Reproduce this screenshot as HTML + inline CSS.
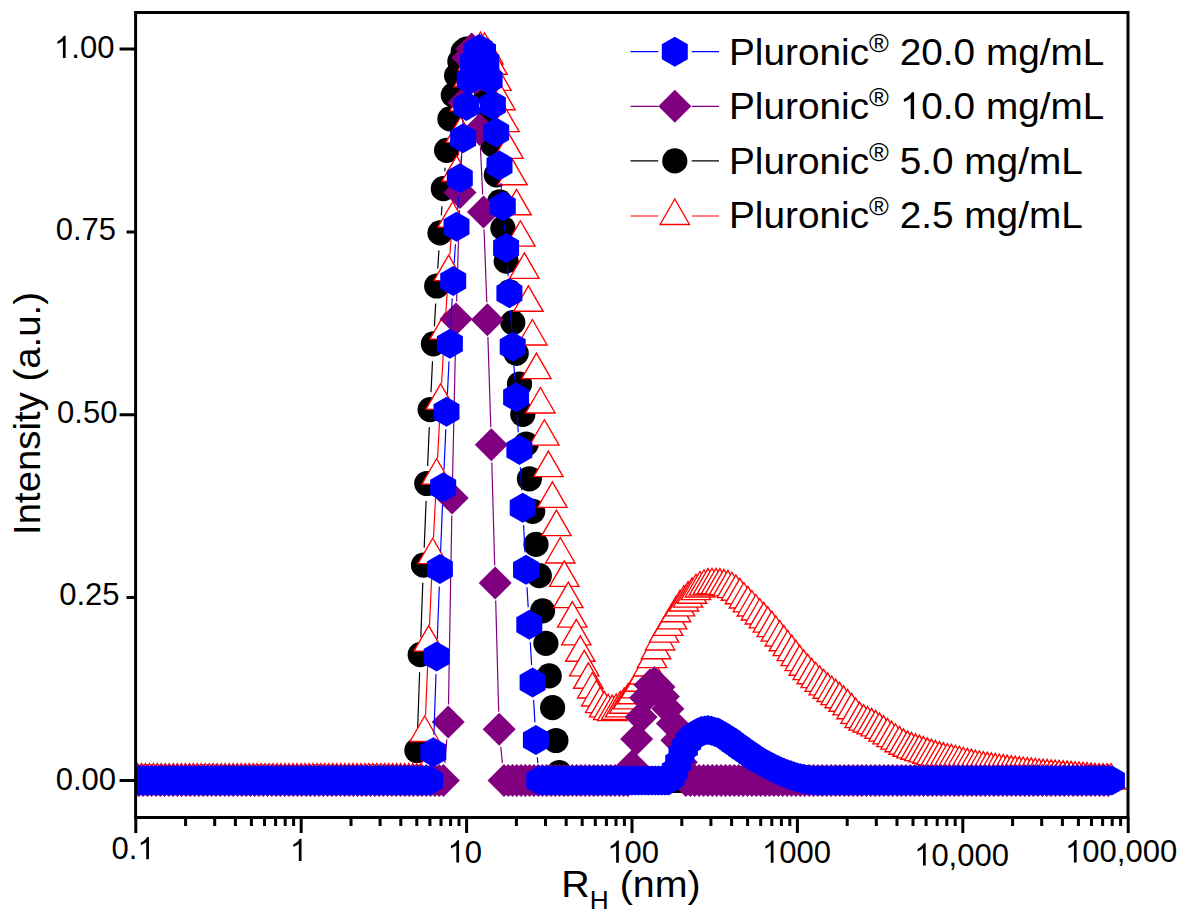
<!DOCTYPE html>
<html><head><meta charset="utf-8"><title>DLS</title>
<style>html,body{margin:0;padding:0;background:#fff}svg{display:block}text{font-family:"Liberation Sans",sans-serif;fill:#000}</style>
</head><body>
<svg width="1186" height="922" viewBox="0 0 1186 922">
<rect width="1186" height="922" fill="#fff"/>
<defs>
<clipPath id="cp"><rect x="135.6" y="12.5" width="992.4" height="805.0"/></clipPath>
<polygon id="h" points="0.00,-15.00 12.99,-7.50 12.99,7.50 0.00,15.00 -12.99,7.50 -12.99,-7.50" fill="#0000ff"/>
<polygon id="d" points="0,-16.5 16.5,0 0,16.5 -16.5,0" fill="#800080"/>
<circle id="c" r="12.6" fill="#000"/>
<polygon id="t" points="0,-16.97 14.70,8.49 -14.70,8.49" fill="#fff" stroke="#ff0000" stroke-width="1.35" stroke-linejoin="miter"/>
</defs>
<g clip-path="url(#cp)"><path d="M417.5 733.0L419.6 672.2M420.8 637.2L422.8 582.7M424.2 547.7L426.1 501.0M427.6 466.0L429.3 427.1M431.0 392.2L432.5 361.3M434.4 326.3L435.7 303.5M437.8 268.5L438.9 250.4M441.3 215.4L442.0 206.2M444.8 171.3L445.1 167.7" stroke="#000000" stroke-width="1.2" fill="none"/><use href="#c" x="135.5" y="780.5"/><use href="#c" x="138.8" y="780.5"/><use href="#c" x="142.1" y="780.5"/><use href="#c" x="145.4" y="780.5"/><use href="#c" x="148.7" y="780.5"/><use href="#c" x="152.1" y="780.5"/><use href="#c" x="155.4" y="780.5"/><use href="#c" x="158.7" y="780.5"/><use href="#c" x="162" y="780.5"/><use href="#c" x="165.3" y="780.5"/><use href="#c" x="168.6" y="780.5"/><use href="#c" x="171.9" y="780.5"/><use href="#c" x="175.2" y="780.5"/><use href="#c" x="178.5" y="780.5"/><use href="#c" x="181.8" y="780.5"/><use href="#c" x="185.2" y="780.5"/><use href="#c" x="188.5" y="780.5"/><use href="#c" x="191.8" y="780.5"/><use href="#c" x="195.1" y="780.5"/><use href="#c" x="198.4" y="780.5"/><use href="#c" x="201.7" y="780.5"/><use href="#c" x="205" y="780.5"/><use href="#c" x="208.3" y="780.5"/><use href="#c" x="211.6" y="780.5"/><use href="#c" x="214.9" y="780.5"/><use href="#c" x="218.2" y="780.5"/><use href="#c" x="221.6" y="780.5"/><use href="#c" x="224.9" y="780.5"/><use href="#c" x="228.2" y="780.5"/><use href="#c" x="231.5" y="780.5"/><use href="#c" x="234.8" y="780.5"/><use href="#c" x="238.1" y="780.5"/><use href="#c" x="241.4" y="780.5"/><use href="#c" x="244.7" y="780.5"/><use href="#c" x="248" y="780.5"/><use href="#c" x="251.4" y="780.5"/><use href="#c" x="254.7" y="780.5"/><use href="#c" x="258" y="780.5"/><use href="#c" x="261.3" y="780.5"/><use href="#c" x="264.6" y="780.5"/><use href="#c" x="267.9" y="780.5"/><use href="#c" x="271.2" y="780.5"/><use href="#c" x="274.5" y="780.5"/><use href="#c" x="277.8" y="780.5"/><use href="#c" x="281.1" y="780.5"/><use href="#c" x="284.4" y="780.5"/><use href="#c" x="287.8" y="780.5"/><use href="#c" x="291.1" y="780.5"/><use href="#c" x="294.4" y="780.5"/><use href="#c" x="297.7" y="780.5"/><use href="#c" x="301" y="780.5"/><use href="#c" x="304.3" y="780.5"/><use href="#c" x="307.6" y="780.5"/><use href="#c" x="310.9" y="780.5"/><use href="#c" x="314.2" y="780.5"/><use href="#c" x="317.6" y="780.5"/><use href="#c" x="320.9" y="780.5"/><use href="#c" x="324.2" y="780.5"/><use href="#c" x="327.5" y="780.5"/><use href="#c" x="330.8" y="780.5"/><use href="#c" x="334.1" y="780.5"/><use href="#c" x="337.4" y="780.5"/><use href="#c" x="340.7" y="780.5"/><use href="#c" x="344" y="780.5"/><use href="#c" x="347.3" y="780.5"/><use href="#c" x="350.6" y="780.5"/><use href="#c" x="354" y="780.5"/><use href="#c" x="357.3" y="780.5"/><use href="#c" x="360.6" y="780.5"/><use href="#c" x="363.9" y="780.5"/><use href="#c" x="367.2" y="780.5"/><use href="#c" x="370.5" y="780.5"/><use href="#c" x="373.8" y="780.5"/><use href="#c" x="377.1" y="780.5"/><use href="#c" x="380.4" y="780.5"/><use href="#c" x="383.8" y="780.5"/><use href="#c" x="387.1" y="780.5"/><use href="#c" x="390.4" y="780.5"/><use href="#c" x="393.7" y="780.5"/><use href="#c" x="397" y="780.5"/><use href="#c" x="400.3" y="780.5"/><use href="#c" x="403.6" y="780.5"/><use href="#c" x="406.9" y="780.5"/><use href="#c" x="410.2" y="780.5"/><use href="#c" x="413.5" y="780.5"/><use href="#c" x="416.9" y="750.5"/><use href="#c" x="420.2" y="654.7"/><use href="#c" x="423.5" y="565.2"/><use href="#c" x="426.8" y="483.5"/><use href="#c" x="430.1" y="409.6"/><use href="#c" x="433.4" y="343.8"/><use href="#c" x="436.7" y="286"/><use href="#c" x="440" y="232.9"/><use href="#c" x="443.3" y="188.7"/><use href="#c" x="446.6" y="150.3"/><use href="#c" x="449.9" y="118.9"/><use href="#c" x="453.3" y="95.1"/><use href="#c" x="456.6" y="75.6"/><use href="#c" x="459.9" y="61.4"/><use href="#c" x="463.2" y="51.6"/><use href="#c" x="466.5" y="49"/><use href="#c" x="469.8" y="49"/><use href="#c" x="473.1" y="50.5"/><use href="#c" x="476.4" y="54.9"/><use href="#c" x="479.7" y="63.6"/><use href="#c" x="483.1" y="76.8"/><use href="#c" x="486.4" y="92.9"/><use href="#c" x="489.7" y="114.8"/><use href="#c" x="493" y="144.8"/><use href="#c" x="496.3" y="174.8"/><use href="#c" x="499.6" y="201.9"/><use href="#c" x="502.9" y="228.2"/><use href="#c" x="506.2" y="261.1"/><use href="#c" x="509.5" y="291.9"/><use href="#c" x="512.8" y="322.6"/><use href="#c" x="516.2" y="353.3"/><use href="#c" x="519.5" y="384"/><use href="#c" x="522.8" y="414.3"/><use href="#c" x="526.1" y="444"/><use href="#c" x="529.4" y="478.8"/><use href="#c" x="532.7" y="511.3"/><use href="#c" x="536" y="544.4"/><use href="#c" x="539.3" y="575.7"/><use href="#c" x="542.6" y="610.8"/><use href="#c" x="545.9" y="643.3"/><use href="#c" x="549.2" y="675.9"/><use href="#c" x="552.6" y="707.7"/><use href="#c" x="555.9" y="740.5"/><use href="#c" x="559.2" y="772.5"/><use href="#c" x="562.5" y="780.5"/><use href="#c" x="565.8" y="780.5"/><use href="#c" x="569.1" y="780.5"/><use href="#c" x="572.4" y="780.5"/><use href="#c" x="575.7" y="780.5"/><use href="#c" x="579" y="780.5"/><use href="#c" x="582.4" y="780.5"/><use href="#c" x="585.7" y="780.5"/><use href="#c" x="589" y="780.5"/><use href="#c" x="592.3" y="780.5"/><use href="#c" x="595.6" y="780.5"/><use href="#c" x="598.9" y="780.5"/><use href="#c" x="602.2" y="780.5"/><use href="#c" x="605.5" y="780.5"/><use href="#c" x="608.8" y="780.5"/><use href="#c" x="612.1" y="780.5"/><use href="#c" x="615.5" y="780.5"/><use href="#c" x="618.8" y="780.5"/><use href="#c" x="622.1" y="780.5"/><use href="#c" x="625.4" y="780.5"/><use href="#c" x="628.7" y="780.5"/><use href="#c" x="632" y="780.5"/><use href="#c" x="635.3" y="780.5"/><use href="#c" x="638.6" y="780.5"/><use href="#c" x="641.9" y="780.5"/><use href="#c" x="645.2" y="780.5"/><use href="#c" x="648.5" y="780.5"/><use href="#c" x="651.9" y="780.5"/><use href="#c" x="655.2" y="780.5"/><use href="#c" x="658.5" y="780.5"/><use href="#c" x="661.8" y="780.5"/><use href="#c" x="665.1" y="780.5"/><use href="#c" x="668.4" y="780.5"/><use href="#c" x="671.7" y="780.5"/><use href="#c" x="675" y="780.5"/><use href="#c" x="678.3" y="780.5"/><use href="#c" x="681.6" y="780.5"/><use href="#c" x="685" y="780.5"/><use href="#c" x="688.3" y="780.5"/><use href="#c" x="691.6" y="780.5"/><use href="#c" x="694.9" y="780.5"/><use href="#c" x="698.2" y="780.5"/><use href="#c" x="701.5" y="780.5"/><use href="#c" x="704.8" y="780.5"/><use href="#c" x="708.1" y="780.5"/><use href="#c" x="711.4" y="780.5"/><use href="#c" x="714.8" y="780.5"/><use href="#c" x="718.1" y="780.5"/><use href="#c" x="721.4" y="780.5"/><use href="#c" x="724.7" y="780.5"/><use href="#c" x="728" y="780.5"/><use href="#c" x="731.3" y="780.5"/><use href="#c" x="734.6" y="780.5"/><use href="#c" x="737.9" y="780.5"/><use href="#c" x="741.2" y="780.5"/><use href="#c" x="744.5" y="780.5"/><use href="#c" x="747.9" y="780.5"/><use href="#c" x="751.2" y="780.5"/><use href="#c" x="754.5" y="780.5"/><use href="#c" x="757.8" y="780.5"/><use href="#c" x="761.1" y="780.5"/><use href="#c" x="764.4" y="780.5"/><use href="#c" x="767.7" y="780.5"/><use href="#c" x="771" y="780.5"/><use href="#c" x="774.3" y="780.5"/><use href="#c" x="777.6" y="780.5"/><use href="#c" x="781" y="780.5"/><use href="#c" x="784.3" y="780.5"/><use href="#c" x="787.6" y="780.5"/><use href="#c" x="790.9" y="780.5"/><use href="#c" x="794.2" y="780.5"/><use href="#c" x="797.5" y="780.5"/><use href="#c" x="800.8" y="780.5"/><use href="#c" x="804.1" y="780.5"/><use href="#c" x="807.4" y="780.5"/><use href="#c" x="810.7" y="780.5"/><use href="#c" x="814" y="780.5"/><use href="#c" x="817.4" y="780.5"/><use href="#c" x="820.7" y="780.5"/><use href="#c" x="824" y="780.5"/><use href="#c" x="827.3" y="780.5"/><use href="#c" x="830.6" y="780.5"/><use href="#c" x="833.9" y="780.5"/><use href="#c" x="837.2" y="780.5"/><use href="#c" x="840.5" y="780.5"/><use href="#c" x="843.8" y="780.5"/><use href="#c" x="847.1" y="780.5"/><use href="#c" x="850.5" y="780.5"/><use href="#c" x="853.8" y="780.5"/><use href="#c" x="857.1" y="780.5"/><use href="#c" x="860.4" y="780.5"/><use href="#c" x="863.7" y="780.5"/><use href="#c" x="867" y="780.5"/><use href="#c" x="870.3" y="780.5"/><use href="#c" x="873.6" y="780.5"/><use href="#c" x="876.9" y="780.5"/><use href="#c" x="880.2" y="780.5"/><use href="#c" x="883.6" y="780.5"/><use href="#c" x="886.9" y="780.5"/><use href="#c" x="890.2" y="780.5"/><use href="#c" x="893.5" y="780.5"/><use href="#c" x="896.8" y="780.5"/><use href="#c" x="900.1" y="780.5"/><use href="#c" x="903.4" y="780.5"/><use href="#c" x="906.7" y="780.5"/><use href="#c" x="910" y="780.5"/><use href="#c" x="913.4" y="780.5"/><use href="#c" x="916.7" y="780.5"/><use href="#c" x="920" y="780.5"/><use href="#c" x="923.3" y="780.5"/><use href="#c" x="926.6" y="780.5"/><use href="#c" x="929.9" y="780.5"/><use href="#c" x="933.2" y="780.5"/><use href="#c" x="936.5" y="780.5"/><use href="#c" x="939.8" y="780.5"/><use href="#c" x="943.1" y="780.5"/><use href="#c" x="946.5" y="780.5"/><use href="#c" x="949.8" y="780.5"/><use href="#c" x="953.1" y="780.5"/><use href="#c" x="956.4" y="780.5"/><use href="#c" x="959.7" y="780.5"/><use href="#c" x="963" y="780.5"/><use href="#c" x="966.3" y="780.5"/><use href="#c" x="969.6" y="780.5"/><use href="#c" x="972.9" y="780.5"/><use href="#c" x="976.2" y="780.5"/><use href="#c" x="979.6" y="780.5"/><use href="#c" x="982.9" y="780.5"/><use href="#c" x="986.2" y="780.5"/><use href="#c" x="989.5" y="780.5"/><use href="#c" x="992.8" y="780.5"/><use href="#c" x="996.1" y="780.5"/><use href="#c" x="999.4" y="780.5"/><use href="#c" x="1002.7" y="780.5"/><use href="#c" x="1006" y="780.5"/><use href="#c" x="1009.3" y="780.5"/><use href="#c" x="1012.6" y="780.5"/><use href="#c" x="1016" y="780.5"/><use href="#c" x="1019.3" y="780.5"/><use href="#c" x="1022.6" y="780.5"/><use href="#c" x="1025.9" y="780.5"/><use href="#c" x="1029.2" y="780.5"/><use href="#c" x="1032.5" y="780.5"/><use href="#c" x="1035.8" y="780.5"/><use href="#c" x="1039.1" y="780.5"/><use href="#c" x="1042.4" y="780.5"/><use href="#c" x="1045.8" y="780.5"/><use href="#c" x="1049.1" y="780.5"/><use href="#c" x="1052.4" y="780.5"/><use href="#c" x="1055.7" y="780.5"/><use href="#c" x="1059" y="780.5"/><use href="#c" x="1062.3" y="780.5"/><use href="#c" x="1065.6" y="780.5"/><use href="#c" x="1068.9" y="780.5"/><use href="#c" x="1072.2" y="780.5"/><use href="#c" x="1075.5" y="780.5"/><use href="#c" x="1078.8" y="780.5"/><use href="#c" x="1082.2" y="780.5"/><use href="#c" x="1085.5" y="780.5"/><use href="#c" x="1088.8" y="780.5"/><use href="#c" x="1092.1" y="780.5"/><use href="#c" x="1095.4" y="780.5"/><use href="#c" x="1098.7" y="780.5"/><use href="#c" x="1102" y="780.5"/><use href="#c" x="1105.3" y="780.5"/><use href="#c" x="1108.6" y="780.5"/><use href="#c" x="1112" y="780.5"/><path d="M422.2 763.1L423.2 750.4M425.5 715.5L427.9 660.1M429.5 625.1L431.9 572.7M433.5 537.7L435.8 493.2M437.6 458.2L439.7 418.3M441.6 383.4L443.6 348.1M445.8 313.2L447.4 289.6M449.9 254.7L451.3 236.2M454.1 201.3L455.1 190.2M458.4 155.4L458.8 151.3" stroke="#ff0000" stroke-width="1.2" fill="none"/><use href="#t" x="137.4" y="780.5"/><use href="#t" x="141.4" y="780.5"/><use href="#t" x="145.4" y="780.5"/><use href="#t" x="149.4" y="780.5"/><use href="#t" x="153.4" y="780.5"/><use href="#t" x="157.4" y="780.5"/><use href="#t" x="161.3" y="780.5"/><use href="#t" x="165.3" y="780.5"/><use href="#t" x="169.3" y="780.5"/><use href="#t" x="173.3" y="780.5"/><use href="#t" x="177.3" y="780.5"/><use href="#t" x="181.3" y="780.5"/><use href="#t" x="185.3" y="780.5"/><use href="#t" x="189.3" y="780.5"/><use href="#t" x="193.3" y="780.5"/><use href="#t" x="197.2" y="780.5"/><use href="#t" x="201.2" y="780.5"/><use href="#t" x="205.2" y="780.5"/><use href="#t" x="209.2" y="780.5"/><use href="#t" x="213.2" y="780.5"/><use href="#t" x="217.2" y="780.5"/><use href="#t" x="221.2" y="780.5"/><use href="#t" x="225.2" y="780.5"/><use href="#t" x="229.2" y="780.5"/><use href="#t" x="233.2" y="780.5"/><use href="#t" x="237.2" y="780.5"/><use href="#t" x="241.1" y="780.5"/><use href="#t" x="245.1" y="780.5"/><use href="#t" x="249.1" y="780.5"/><use href="#t" x="253.1" y="780.5"/><use href="#t" x="257.1" y="780.5"/><use href="#t" x="261.1" y="780.5"/><use href="#t" x="265.1" y="780.5"/><use href="#t" x="269.1" y="780.5"/><use href="#t" x="273.1" y="780.5"/><use href="#t" x="277.1" y="780.5"/><use href="#t" x="281" y="780.5"/><use href="#t" x="285" y="780.5"/><use href="#t" x="289" y="780.5"/><use href="#t" x="293" y="780.5"/><use href="#t" x="297" y="780.5"/><use href="#t" x="301" y="780.5"/><use href="#t" x="305" y="780.5"/><use href="#t" x="309" y="780.5"/><use href="#t" x="313" y="780.5"/><use href="#t" x="317" y="780.5"/><use href="#t" x="320.9" y="780.5"/><use href="#t" x="324.9" y="780.5"/><use href="#t" x="328.9" y="780.5"/><use href="#t" x="332.9" y="780.5"/><use href="#t" x="336.9" y="780.5"/><use href="#t" x="340.9" y="780.5"/><use href="#t" x="344.9" y="780.5"/><use href="#t" x="348.9" y="780.5"/><use href="#t" x="352.9" y="780.5"/><use href="#t" x="356.9" y="780.5"/><use href="#t" x="360.8" y="780.5"/><use href="#t" x="364.8" y="780.5"/><use href="#t" x="368.8" y="780.5"/><use href="#t" x="372.8" y="780.5"/><use href="#t" x="376.8" y="780.5"/><use href="#t" x="380.8" y="780.5"/><use href="#t" x="384.8" y="780.5"/><use href="#t" x="388.8" y="780.5"/><use href="#t" x="392.8" y="780.5"/><use href="#t" x="396.8" y="780.5"/><use href="#t" x="400.7" y="780.5"/><use href="#t" x="404.7" y="780.5"/><use href="#t" x="408.7" y="780.5"/><use href="#t" x="412.7" y="780.5"/><use href="#t" x="416.7" y="780.5"/><use href="#t" x="420.7" y="780.5"/><use href="#t" x="424.7" y="733"/><use href="#t" x="428.7" y="642.6"/><use href="#t" x="432.7" y="555.2"/><use href="#t" x="436.6" y="475.7"/><use href="#t" x="440.6" y="400.9"/><use href="#t" x="444.6" y="330.6"/><use href="#t" x="448.6" y="272.1"/><use href="#t" x="452.6" y="218.7"/><use href="#t" x="456.6" y="172.8"/><use href="#t" x="460.6" y="133.9"/><use href="#t" x="464.6" y="102.4"/><use href="#t" x="468.6" y="78.3"/><use href="#t" x="472.6" y="62.2"/><use href="#t" x="476.6" y="53.4"/><use href="#t" x="480.5" y="49"/><use href="#t" x="484.5" y="49.7"/><use href="#t" x="488.5" y="55.6"/><use href="#t" x="492.5" y="65.8"/><use href="#t" x="496.5" y="81.9"/><use href="#t" x="500.5" y="101.3"/><use href="#t" x="504.5" y="123.2"/><use href="#t" x="508.5" y="149.9"/><use href="#t" x="512.5" y="176.3"/><use href="#t" x="516.5" y="206.3"/><use href="#t" x="520.4" y="237.7"/><use href="#t" x="524.4" y="269.9"/><use href="#t" x="528.4" y="302.8"/><use href="#t" x="532.4" y="336.5"/><use href="#t" x="536.4" y="370.1"/><use href="#t" x="540.4" y="404.5"/><use href="#t" x="544.4" y="436.7"/><use href="#t" x="548.4" y="468.1"/><use href="#t" x="552.4" y="498.9"/><use href="#t" x="556.4" y="527.1"/><use href="#t" x="560.3" y="554.5"/><use href="#t" x="564.3" y="577.9"/><use href="#t" x="568.3" y="599.1"/><use href="#t" x="572.3" y="618.6"/><use href="#t" x="576.3" y="636.4"/><use href="#t" x="580.3" y="652.8"/><use href="#t" x="584.3" y="667.4"/><use href="#t" x="588.3" y="679.8"/><use href="#t" x="592.3" y="689.5"/><use href="#t" x="596.2" y="697.5"/><use href="#t" x="600.2" y="704.1"/><use href="#t" x="604.2" y="708.4"/><use href="#t" x="608.2" y="711.2"/><use href="#t" x="612.2" y="712.1"/><use href="#t" x="616.2" y="711"/><use href="#t" x="620.2" y="708.4"/><use href="#t" x="624.2" y="704.8"/><use href="#t" x="628.2" y="700.4"/><use href="#t" x="632.2" y="695.3"/><use href="#t" x="636.1" y="689.4"/><use href="#t" x="640.1" y="682.8"/><use href="#t" x="644.1" y="675.5"/><use href="#t" x="648.1" y="667.5"/><use href="#t" x="652.1" y="659.1"/><use href="#t" x="656.1" y="650.3"/><use href="#t" x="660.1" y="641.5"/><use href="#t" x="664.1" y="633.7"/><use href="#t" x="668.1" y="626.9"/><use href="#t" x="672.1" y="620.4"/><use href="#t" x="676" y="613.3"/><use href="#t" x="680" y="607.4"/><use href="#t" x="684" y="602.5"/><use href="#t" x="688" y="598.6"/><use href="#t" x="692" y="594.8"/><use href="#t" x="696" y="591.2"/><use href="#t" x="700" y="588.5"/><use href="#t" x="704" y="586.7"/><use href="#t" x="708" y="585.6"/><use href="#t" x="712" y="585.2"/><use href="#t" x="716" y="585.2"/><use href="#t" x="719.9" y="585.6"/><use href="#t" x="723.9" y="586.3"/><use href="#t" x="727.9" y="587.4"/><use href="#t" x="731.9" y="589.2"/><use href="#t" x="735.9" y="591.8"/><use href="#t" x="739.9" y="595.3"/><use href="#t" x="743.9" y="599.5"/><use href="#t" x="747.9" y="603.4"/><use href="#t" x="751.9" y="607.5"/><use href="#t" x="755.9" y="611.5"/><use href="#t" x="759.8" y="615.5"/><use href="#t" x="763.8" y="619.4"/><use href="#t" x="767.8" y="623.6"/><use href="#t" x="771.8" y="628.1"/><use href="#t" x="775.8" y="632.7"/><use href="#t" x="779.8" y="637.5"/><use href="#t" x="783.8" y="642.3"/><use href="#t" x="787.8" y="647.2"/><use href="#t" x="791.8" y="652.1"/><use href="#t" x="795.8" y="657.1"/><use href="#t" x="799.7" y="662.1"/><use href="#t" x="803.7" y="666.8"/><use href="#t" x="807.7" y="671.1"/><use href="#t" x="811.7" y="675.3"/><use href="#t" x="815.7" y="679.2"/><use href="#t" x="819.7" y="682.9"/><use href="#t" x="823.7" y="686.4"/><use href="#t" x="827.7" y="689.8"/><use href="#t" x="831.7" y="693"/><use href="#t" x="835.6" y="696.1"/><use href="#t" x="839.6" y="699.3"/><use href="#t" x="843.6" y="702.8"/><use href="#t" x="847.6" y="706.4"/><use href="#t" x="851.6" y="710.3"/><use href="#t" x="855.6" y="714.9"/><use href="#t" x="859.6" y="719.1"/><use href="#t" x="863.6" y="721.6"/><use href="#t" x="867.6" y="723.5"/><use href="#t" x="871.6" y="725.3"/><use href="#t" x="875.6" y="727.4"/><use href="#t" x="879.5" y="729.9"/><use href="#t" x="883.5" y="732.6"/><use href="#t" x="887.5" y="735.4"/><use href="#t" x="891.5" y="738.1"/><use href="#t" x="895.5" y="740.7"/><use href="#t" x="899.5" y="743.3"/><use href="#t" x="903.5" y="745.8"/><use href="#t" x="907.5" y="747.8"/><use href="#t" x="911.5" y="749.4"/><use href="#t" x="915.5" y="750.8"/><use href="#t" x="919.4" y="752.1"/><use href="#t" x="923.4" y="753.4"/><use href="#t" x="927.4" y="754.8"/><use href="#t" x="931.4" y="756.1"/><use href="#t" x="935.4" y="757.4"/><use href="#t" x="939.4" y="758.6"/><use href="#t" x="943.4" y="759.6"/><use href="#t" x="947.4" y="760.5"/><use href="#t" x="951.4" y="761.3"/><use href="#t" x="955.4" y="762.2"/><use href="#t" x="959.3" y="763.2"/><use href="#t" x="963.3" y="764.2"/><use href="#t" x="967.3" y="765.2"/><use href="#t" x="971.3" y="766.1"/><use href="#t" x="975.3" y="767"/><use href="#t" x="979.3" y="767.7"/><use href="#t" x="983.3" y="768.5"/><use href="#t" x="987.3" y="769.1"/><use href="#t" x="991.3" y="769.8"/><use href="#t" x="995.2" y="770.4"/><use href="#t" x="999.2" y="771"/><use href="#t" x="1003.2" y="771.6"/><use href="#t" x="1007.2" y="772.1"/><use href="#t" x="1011.2" y="772.6"/><use href="#t" x="1015.2" y="773.1"/><use href="#t" x="1019.2" y="773.6"/><use href="#t" x="1023.2" y="774"/><use href="#t" x="1027.2" y="774.5"/><use href="#t" x="1031.2" y="774.9"/><use href="#t" x="1035.2" y="775.4"/><use href="#t" x="1039.1" y="775.7"/><use href="#t" x="1043.1" y="776.1"/><use href="#t" x="1047.1" y="776.4"/><use href="#t" x="1051.1" y="776.7"/><use href="#t" x="1055.1" y="777"/><use href="#t" x="1059.1" y="777.3"/><use href="#t" x="1063.1" y="777.6"/><use href="#t" x="1067.1" y="777.9"/><use href="#t" x="1071.1" y="778.3"/><use href="#t" x="1075.1" y="778.6"/><use href="#t" x="1079" y="778.9"/><use href="#t" x="1083" y="779.2"/><use href="#t" x="1087" y="779.5"/><use href="#t" x="1091" y="779.9"/><use href="#t" x="1095" y="780.2"/><use href="#t" x="1099" y="780.5"/><use href="#t" x="1103" y="780.5"/><use href="#t" x="1107" y="780.5"/><use href="#t" x="1111" y="780.5"/><path d="M444.8 763.1L446.8 739.4M448.5 704.5L451.8 515.6M452.5 480.6L455.7 336.4M456.6 301.4L459.4 209.9M460.7 174.9L463.1 119.9M465.4 85.0L466.3 75.2M477.0 95.7L478.2 112.0M480.4 146.9L482.7 194.6M484.1 229.6L486.8 302.2M487.9 337.1L490.8 427.3M491.8 462.2L494.7 565.5M495.7 600.5L498.7 711.8M500.8 746.7L502.4 763.1" stroke="#800080" stroke-width="1.2" fill="none"/><use href="#d" x="134.5" y="780.5"/><use href="#d" x="138.8" y="780.5"/><use href="#d" x="143.1" y="780.5"/><use href="#d" x="147.4" y="780.5"/><use href="#d" x="151.7" y="780.5"/><use href="#d" x="156" y="780.5"/><use href="#d" x="160.3" y="780.5"/><use href="#d" x="164.5" y="780.5"/><use href="#d" x="168.8" y="780.5"/><use href="#d" x="173.1" y="780.5"/><use href="#d" x="177.4" y="780.5"/><use href="#d" x="181.7" y="780.5"/><use href="#d" x="186" y="780.5"/><use href="#d" x="190.3" y="780.5"/><use href="#d" x="194.6" y="780.5"/><use href="#d" x="198.9" y="780.5"/><use href="#d" x="203.2" y="780.5"/><use href="#d" x="207.4" y="780.5"/><use href="#d" x="211.7" y="780.5"/><use href="#d" x="216" y="780.5"/><use href="#d" x="220.3" y="780.5"/><use href="#d" x="224.6" y="780.5"/><use href="#d" x="228.9" y="780.5"/><use href="#d" x="233.2" y="780.5"/><use href="#d" x="237.5" y="780.5"/><use href="#d" x="241.8" y="780.5"/><use href="#d" x="246.1" y="780.5"/><use href="#d" x="250.3" y="780.5"/><use href="#d" x="254.6" y="780.5"/><use href="#d" x="258.9" y="780.5"/><use href="#d" x="263.2" y="780.5"/><use href="#d" x="267.5" y="780.5"/><use href="#d" x="271.8" y="780.5"/><use href="#d" x="276.1" y="780.5"/><use href="#d" x="280.4" y="780.5"/><use href="#d" x="284.7" y="780.5"/><use href="#d" x="289" y="780.5"/><use href="#d" x="293.2" y="780.5"/><use href="#d" x="297.5" y="780.5"/><use href="#d" x="301.8" y="780.5"/><use href="#d" x="306.1" y="780.5"/><use href="#d" x="310.4" y="780.5"/><use href="#d" x="314.7" y="780.5"/><use href="#d" x="319" y="780.5"/><use href="#d" x="323.3" y="780.5"/><use href="#d" x="327.6" y="780.5"/><use href="#d" x="331.9" y="780.5"/><use href="#d" x="336.1" y="780.5"/><use href="#d" x="340.4" y="780.5"/><use href="#d" x="344.7" y="780.5"/><use href="#d" x="349" y="780.5"/><use href="#d" x="353.3" y="780.5"/><use href="#d" x="357.6" y="780.5"/><use href="#d" x="361.9" y="780.5"/><use href="#d" x="366.2" y="780.5"/><use href="#d" x="370.5" y="780.5"/><use href="#d" x="374.8" y="780.5"/><use href="#d" x="379" y="780.5"/><use href="#d" x="383.3" y="780.5"/><use href="#d" x="387.6" y="780.5"/><use href="#d" x="391.9" y="780.5"/><use href="#d" x="396.2" y="780.5"/><use href="#d" x="400.5" y="780.5"/><use href="#d" x="404.8" y="780.5"/><use href="#d" x="409.1" y="780.5"/><use href="#d" x="413.4" y="780.5"/><use href="#d" x="417.7" y="780.5"/><use href="#d" x="421.9" y="780.5"/><use href="#d" x="426.2" y="780.5"/><use href="#d" x="430.5" y="780.5"/><use href="#d" x="434.8" y="780.5"/><use href="#d" x="439.1" y="780.5"/><use href="#d" x="443.4" y="780.5"/><use href="#d" x="448.2" y="722"/><use href="#d" x="452.1" y="498.1"/><use href="#d" x="456" y="318.9"/><use href="#d" x="460" y="192.4"/><use href="#d" x="463.9" y="102.4"/><use href="#d" x="467.8" y="57.8"/><use href="#d" x="471.7" y="49"/><use href="#d" x="475.6" y="78.3"/><use href="#d" x="479.6" y="129.5"/><use href="#d" x="483.5" y="212.1"/><use href="#d" x="487.4" y="319.7"/><use href="#d" x="491.3" y="444.7"/><use href="#d" x="495.2" y="583"/><use href="#d" x="499.2" y="729.3"/><use href="#d" x="504" y="780.5"/><use href="#d" x="508.3" y="780.5"/><use href="#d" x="512.5" y="780.5"/><use href="#d" x="516.8" y="780.5"/><use href="#d" x="521.1" y="780.5"/><use href="#d" x="525.3" y="780.5"/><use href="#d" x="529.6" y="780.5"/><use href="#d" x="533.9" y="780.5"/><use href="#d" x="538.2" y="780.5"/><use href="#d" x="542.4" y="780.5"/><use href="#d" x="546.7" y="780.5"/><use href="#d" x="551" y="780.5"/><use href="#d" x="555.2" y="780.5"/><use href="#d" x="559.5" y="780.5"/><use href="#d" x="563.8" y="780.5"/><use href="#d" x="568" y="780.5"/><use href="#d" x="572.3" y="780.5"/><use href="#d" x="576.6" y="780.5"/><use href="#d" x="580.9" y="780.5"/><use href="#d" x="585.1" y="780.5"/><use href="#d" x="589.4" y="780.5"/><use href="#d" x="593.7" y="780.5"/><use href="#d" x="597.9" y="780.5"/><use href="#d" x="602.2" y="780.5"/><use href="#d" x="606.5" y="780.5"/><use href="#d" x="610.7" y="780.5"/><use href="#d" x="615" y="780.5"/><use href="#d" x="619.3" y="780.5"/><use href="#d" x="623.6" y="780.5"/><use href="#d" x="627.8" y="780.5"/><use href="#d" x="632.1" y="765.9"/><use href="#d" x="636.6" y="739.1"/><use href="#d" x="641.1" y="716.9"/><use href="#d" x="645.5" y="697.8"/><use href="#d" x="650" y="685"/><use href="#d" x="654.5" y="682.5"/><use href="#d" x="659" y="686.9"/><use href="#d" x="663.4" y="696.4"/><use href="#d" x="667.9" y="708.8"/><use href="#d" x="672.4" y="723.4"/><use href="#d" x="676.9" y="740.3"/><use href="#d" x="681.3" y="762.2"/><use href="#d" x="685.8" y="780.5"/><use href="#d" x="690.3" y="780.5"/><use href="#d" x="694.7" y="780.5"/><use href="#d" x="699.1" y="780.5"/><use href="#d" x="703.5" y="780.5"/><use href="#d" x="707.9" y="780.5"/><use href="#d" x="712.3" y="780.5"/><use href="#d" x="716.7" y="780.5"/><use href="#d" x="721.1" y="780.5"/><use href="#d" x="725.5" y="780.5"/><use href="#d" x="729.9" y="780.5"/><use href="#d" x="734.3" y="780.5"/><use href="#d" x="738.7" y="780.5"/><use href="#d" x="743.1" y="780.5"/><use href="#d" x="747.5" y="780.5"/><use href="#d" x="751.9" y="780.5"/><use href="#d" x="756.3" y="780.5"/><use href="#d" x="760.7" y="780.5"/><use href="#d" x="765.1" y="780.5"/><use href="#d" x="769.5" y="780.5"/><use href="#d" x="773.9" y="780.5"/><use href="#d" x="778.3" y="780.5"/><use href="#d" x="782.7" y="780.5"/><use href="#d" x="787.1" y="780.5"/><use href="#d" x="791.5" y="780.5"/><use href="#d" x="795.9" y="780.5"/><use href="#d" x="800.3" y="780.5"/><use href="#d" x="804.7" y="780.5"/><use href="#d" x="809.1" y="780.5"/><use href="#d" x="813.5" y="780.5"/><use href="#d" x="817.9" y="780.5"/><use href="#d" x="822.3" y="780.5"/><use href="#d" x="826.7" y="780.5"/><use href="#d" x="831.1" y="780.5"/><use href="#d" x="835.5" y="780.5"/><use href="#d" x="839.9" y="780.5"/><use href="#d" x="844.3" y="780.5"/><use href="#d" x="848.7" y="780.5"/><use href="#d" x="853.1" y="780.5"/><use href="#d" x="857.5" y="780.5"/><use href="#d" x="861.9" y="780.5"/><use href="#d" x="866.3" y="780.5"/><use href="#d" x="870.7" y="780.5"/><use href="#d" x="875.1" y="780.5"/><use href="#d" x="879.5" y="780.5"/><use href="#d" x="883.9" y="780.5"/><use href="#d" x="888.3" y="780.5"/><use href="#d" x="892.7" y="780.5"/><use href="#d" x="897.1" y="780.5"/><use href="#d" x="901.5" y="780.5"/><use href="#d" x="905.9" y="780.5"/><use href="#d" x="910.3" y="780.5"/><use href="#d" x="914.7" y="780.5"/><use href="#d" x="919.1" y="780.5"/><use href="#d" x="923.5" y="780.5"/><use href="#d" x="927.9" y="780.5"/><use href="#d" x="932.3" y="780.5"/><use href="#d" x="936.7" y="780.5"/><use href="#d" x="941.1" y="780.5"/><use href="#d" x="945.5" y="780.5"/><use href="#d" x="949.9" y="780.5"/><use href="#d" x="954.3" y="780.5"/><use href="#d" x="958.7" y="780.5"/><use href="#d" x="963.1" y="780.5"/><use href="#d" x="967.5" y="780.5"/><use href="#d" x="971.9" y="780.5"/><use href="#d" x="976.3" y="780.5"/><use href="#d" x="980.7" y="780.5"/><use href="#d" x="985.1" y="780.5"/><use href="#d" x="989.5" y="780.5"/><use href="#d" x="993.9" y="780.5"/><use href="#d" x="998.3" y="780.5"/><use href="#d" x="1002.7" y="780.5"/><use href="#d" x="1007.1" y="780.5"/><use href="#d" x="1011.5" y="780.5"/><use href="#d" x="1015.9" y="780.5"/><use href="#d" x="1020.3" y="780.5"/><use href="#d" x="1024.7" y="780.5"/><use href="#d" x="1029.1" y="780.5"/><use href="#d" x="1033.5" y="780.5"/><use href="#d" x="1037.9" y="780.5"/><use href="#d" x="1042.3" y="780.5"/><use href="#d" x="1046.7" y="780.5"/><use href="#d" x="1051.1" y="780.5"/><use href="#d" x="1055.5" y="780.5"/><use href="#d" x="1059.9" y="780.5"/><use href="#d" x="1064.3" y="780.5"/><use href="#d" x="1068.7" y="780.5"/><use href="#d" x="1073.1" y="780.5"/><use href="#d" x="1077.5" y="780.5"/><use href="#d" x="1081.9" y="780.5"/><use href="#d" x="1086.3" y="780.5"/><use href="#d" x="1090.7" y="780.5"/><use href="#d" x="1095.1" y="780.5"/><use href="#d" x="1099.5" y="780.5"/><use href="#d" x="1103.9" y="780.5"/><use href="#d" x="1108.3" y="780.5"/><path d="M433.9 734.7L436.0 673.9M437.3 639.0L439.3 586.6M440.6 551.6L442.5 504.7M444.0 469.7L445.8 429.3M447.4 394.3L449.0 361.3M450.8 326.3L452.2 298.4M454.2 263.4L455.4 244.2M457.7 209.3L458.6 195.6M461.2 160.7L461.6 155.7M500.9 183.0L501.4 188.8M504.2 223.7L504.7 230.5M507.4 265.4L508.2 275.9M510.5 310.8L511.7 329.3M513.9 364.2L514.9 379.7M517.1 414.7L518.3 432.4M520.4 467.3L521.7 490.2M523.6 525.1L525.0 552.4M527.0 587.3L528.2 607.2M530.3 642.2L531.6 665.0M533.6 699.9L534.9 722.4M537.3 757.3L537.8 763.1" stroke="#0000ff" stroke-width="1.2" fill="none"/><use href="#h" x="135.4" y="780.5"/><use href="#h" x="138.7" y="780.5"/><use href="#h" x="142" y="780.5"/><use href="#h" x="145.3" y="780.5"/><use href="#h" x="148.6" y="780.5"/><use href="#h" x="152" y="780.5"/><use href="#h" x="155.3" y="780.5"/><use href="#h" x="158.6" y="780.5"/><use href="#h" x="161.9" y="780.5"/><use href="#h" x="165.2" y="780.5"/><use href="#h" x="168.5" y="780.5"/><use href="#h" x="171.8" y="780.5"/><use href="#h" x="175.1" y="780.5"/><use href="#h" x="178.4" y="780.5"/><use href="#h" x="181.7" y="780.5"/><use href="#h" x="185.1" y="780.5"/><use href="#h" x="188.4" y="780.5"/><use href="#h" x="191.7" y="780.5"/><use href="#h" x="195" y="780.5"/><use href="#h" x="198.3" y="780.5"/><use href="#h" x="201.6" y="780.5"/><use href="#h" x="204.9" y="780.5"/><use href="#h" x="208.2" y="780.5"/><use href="#h" x="211.5" y="780.5"/><use href="#h" x="214.8" y="780.5"/><use href="#h" x="218.2" y="780.5"/><use href="#h" x="221.5" y="780.5"/><use href="#h" x="224.8" y="780.5"/><use href="#h" x="228.1" y="780.5"/><use href="#h" x="231.4" y="780.5"/><use href="#h" x="234.7" y="780.5"/><use href="#h" x="238" y="780.5"/><use href="#h" x="241.3" y="780.5"/><use href="#h" x="244.6" y="780.5"/><use href="#h" x="247.9" y="780.5"/><use href="#h" x="251.2" y="780.5"/><use href="#h" x="254.6" y="780.5"/><use href="#h" x="257.9" y="780.5"/><use href="#h" x="261.2" y="780.5"/><use href="#h" x="264.5" y="780.5"/><use href="#h" x="267.8" y="780.5"/><use href="#h" x="271.1" y="780.5"/><use href="#h" x="274.4" y="780.5"/><use href="#h" x="277.7" y="780.5"/><use href="#h" x="281" y="780.5"/><use href="#h" x="284.4" y="780.5"/><use href="#h" x="287.7" y="780.5"/><use href="#h" x="291" y="780.5"/><use href="#h" x="294.3" y="780.5"/><use href="#h" x="297.6" y="780.5"/><use href="#h" x="300.9" y="780.5"/><use href="#h" x="304.2" y="780.5"/><use href="#h" x="307.5" y="780.5"/><use href="#h" x="310.8" y="780.5"/><use href="#h" x="314.1" y="780.5"/><use href="#h" x="317.5" y="780.5"/><use href="#h" x="320.8" y="780.5"/><use href="#h" x="324.1" y="780.5"/><use href="#h" x="327.4" y="780.5"/><use href="#h" x="330.7" y="780.5"/><use href="#h" x="334" y="780.5"/><use href="#h" x="337.3" y="780.5"/><use href="#h" x="340.6" y="780.5"/><use href="#h" x="343.9" y="780.5"/><use href="#h" x="347.2" y="780.5"/><use href="#h" x="350.6" y="780.5"/><use href="#h" x="353.9" y="780.5"/><use href="#h" x="357.2" y="780.5"/><use href="#h" x="360.5" y="780.5"/><use href="#h" x="363.8" y="780.5"/><use href="#h" x="367.1" y="780.5"/><use href="#h" x="370.4" y="780.5"/><use href="#h" x="373.7" y="780.5"/><use href="#h" x="377" y="780.5"/><use href="#h" x="380.3" y="780.5"/><use href="#h" x="383.6" y="780.5"/><use href="#h" x="387" y="780.5"/><use href="#h" x="390.3" y="780.5"/><use href="#h" x="393.6" y="780.5"/><use href="#h" x="396.9" y="780.5"/><use href="#h" x="400.2" y="780.5"/><use href="#h" x="403.5" y="780.5"/><use href="#h" x="406.8" y="780.5"/><use href="#h" x="410.1" y="780.5"/><use href="#h" x="413.4" y="780.5"/><use href="#h" x="416.8" y="780.5"/><use href="#h" x="420.1" y="780.5"/><use href="#h" x="423.4" y="780.5"/><use href="#h" x="426.7" y="780.5"/><use href="#h" x="430" y="780.5"/><use href="#h" x="433.3" y="752.2"/><use href="#h" x="436.6" y="656.4"/><use href="#h" x="439.9" y="569.1"/><use href="#h" x="443.2" y="487.2"/><use href="#h" x="446.5" y="411.8"/><use href="#h" x="449.9" y="343.8"/><use href="#h" x="453.2" y="280.9"/><use href="#h" x="456.5" y="226.8"/><use href="#h" x="459.8" y="178.2"/><use href="#h" x="463.1" y="138.2"/><use href="#h" x="466.4" y="106.1"/><use href="#h" x="469.7" y="79.7"/><use href="#h" x="473" y="62.2"/><use href="#h" x="476.3" y="51.9"/><use href="#h" x="479.6" y="49"/><use href="#h" x="483" y="51.9"/><use href="#h" x="486.3" y="62.2"/><use href="#h" x="489.6" y="79.7"/><use href="#h" x="492.9" y="104.9"/><use href="#h" x="496.2" y="132.4"/><use href="#h" x="499.5" y="165.5"/><use href="#h" x="502.8" y="206.3"/><use href="#h" x="506.1" y="248"/><use href="#h" x="509.4" y="293.3"/><use href="#h" x="512.7" y="346.7"/><use href="#h" x="516.1" y="397.2"/><use href="#h" x="519.4" y="449.9"/><use href="#h" x="522.7" y="507.7"/><use href="#h" x="526" y="569.8"/><use href="#h" x="529.3" y="624.7"/><use href="#h" x="532.6" y="682.5"/><use href="#h" x="535.9" y="739.9"/><use href="#h" x="539.2" y="780.5"/><use href="#h" x="542.5" y="780.5"/><use href="#h" x="545.8" y="780.5"/><use href="#h" x="549.1" y="780.5"/><use href="#h" x="552.5" y="780.5"/><use href="#h" x="555.8" y="780.5"/><use href="#h" x="559.1" y="780.5"/><use href="#h" x="562.4" y="780.5"/><use href="#h" x="565.7" y="780.5"/><use href="#h" x="569" y="780.5"/><use href="#h" x="572.3" y="780.5"/><use href="#h" x="575.6" y="780.5"/><use href="#h" x="578.9" y="780.5"/><use href="#h" x="582.2" y="780.5"/><use href="#h" x="585.6" y="780.5"/><use href="#h" x="588.9" y="780.5"/><use href="#h" x="592.2" y="780.5"/><use href="#h" x="595.5" y="780.5"/><use href="#h" x="598.8" y="780.5"/><use href="#h" x="602.1" y="780.5"/><use href="#h" x="605.4" y="780.5"/><use href="#h" x="608.7" y="780.5"/><use href="#h" x="612" y="780.5"/><use href="#h" x="615.4" y="780.5"/><use href="#h" x="618.7" y="780.5"/><use href="#h" x="622" y="780.5"/><use href="#h" x="625.3" y="780.5"/><use href="#h" x="628.6" y="780.5"/><use href="#h" x="631.9" y="780.5"/><use href="#h" x="635.2" y="780.5"/><use href="#h" x="638.5" y="780.5"/><use href="#h" x="641.8" y="780.5"/><use href="#h" x="645.1" y="780.5"/><use href="#h" x="648.4" y="780.5"/><use href="#h" x="651.8" y="780.5"/><use href="#h" x="655.1" y="780.5"/><use href="#h" x="658.4" y="780.5"/><use href="#h" x="661.7" y="780.5"/><use href="#h" x="665" y="780.5"/><use href="#h" x="668.3" y="780.5"/><use href="#h" x="671.6" y="777.4"/><use href="#h" x="674.9" y="771"/><use href="#h" x="678.2" y="762.7"/><use href="#h" x="681.5" y="754.4"/><use href="#h" x="684.9" y="747.4"/><use href="#h" x="688.2" y="741.8"/><use href="#h" x="691.5" y="737.7"/><use href="#h" x="694.8" y="734.6"/><use href="#h" x="698.1" y="732.4"/><use href="#h" x="701.4" y="731.1"/><use href="#h" x="704.7" y="730.4"/><use href="#h" x="708" y="730"/><use href="#h" x="711.3" y="730.8"/><use href="#h" x="714.6" y="731.7"/><use href="#h" x="718" y="732.6"/><use href="#h" x="721.3" y="734.7"/><use href="#h" x="724.6" y="736.7"/><use href="#h" x="727.9" y="738.8"/><use href="#h" x="731.2" y="741.2"/><use href="#h" x="734.5" y="743.7"/><use href="#h" x="737.8" y="746.1"/><use href="#h" x="741.1" y="748.4"/><use href="#h" x="744.4" y="750.8"/><use href="#h" x="747.8" y="753.1"/><use href="#h" x="751.1" y="755.4"/><use href="#h" x="754.4" y="757.8"/><use href="#h" x="757.7" y="759.7"/><use href="#h" x="761" y="761.5"/><use href="#h" x="764.3" y="763.3"/><use href="#h" x="767.6" y="765.1"/><use href="#h" x="770.9" y="766.8"/><use href="#h" x="774.2" y="768.5"/><use href="#h" x="777.5" y="770.1"/><use href="#h" x="780.9" y="771.5"/><use href="#h" x="784.2" y="772.9"/><use href="#h" x="787.5" y="774.3"/><use href="#h" x="790.8" y="775.3"/><use href="#h" x="794.1" y="776.4"/><use href="#h" x="797.4" y="777.4"/><use href="#h" x="800.7" y="778.2"/><use href="#h" x="804" y="779"/><use href="#h" x="807.3" y="779.8"/><use href="#h" x="810.6" y="780.1"/><use href="#h" x="813.9" y="780.5"/><use href="#h" x="817.3" y="780.5"/><use href="#h" x="820.6" y="780.5"/><use href="#h" x="823.9" y="780.5"/><use href="#h" x="827.2" y="780.5"/><use href="#h" x="830.5" y="780.5"/><use href="#h" x="833.8" y="780.5"/><use href="#h" x="837.1" y="780.5"/><use href="#h" x="840.4" y="780.5"/><use href="#h" x="843.7" y="780.5"/><use href="#h" x="847" y="780.5"/><use href="#h" x="850.4" y="780.5"/><use href="#h" x="853.7" y="780.5"/><use href="#h" x="857" y="780.5"/><use href="#h" x="860.3" y="780.5"/><use href="#h" x="863.6" y="780.5"/><use href="#h" x="866.9" y="780.5"/><use href="#h" x="870.2" y="780.5"/><use href="#h" x="873.5" y="780.5"/><use href="#h" x="876.8" y="780.5"/><use href="#h" x="880.1" y="780.5"/><use href="#h" x="883.5" y="780.5"/><use href="#h" x="886.8" y="780.5"/><use href="#h" x="890.1" y="780.5"/><use href="#h" x="893.4" y="780.5"/><use href="#h" x="896.7" y="780.5"/><use href="#h" x="900" y="780.5"/><use href="#h" x="903.3" y="780.5"/><use href="#h" x="906.6" y="780.5"/><use href="#h" x="909.9" y="780.5"/><use href="#h" x="913.2" y="780.5"/><use href="#h" x="916.6" y="780.5"/><use href="#h" x="919.9" y="780.5"/><use href="#h" x="923.2" y="780.5"/><use href="#h" x="926.5" y="780.5"/><use href="#h" x="929.8" y="780.5"/><use href="#h" x="933.1" y="780.5"/><use href="#h" x="936.4" y="780.5"/><use href="#h" x="939.7" y="780.5"/><use href="#h" x="943" y="780.5"/><use href="#h" x="946.4" y="780.5"/><use href="#h" x="949.7" y="780.5"/><use href="#h" x="953" y="780.5"/><use href="#h" x="956.3" y="780.5"/><use href="#h" x="959.6" y="780.5"/><use href="#h" x="962.9" y="780.5"/><use href="#h" x="966.2" y="780.5"/><use href="#h" x="969.5" y="780.5"/><use href="#h" x="972.8" y="780.5"/><use href="#h" x="976.1" y="780.5"/><use href="#h" x="979.5" y="780.5"/><use href="#h" x="982.8" y="780.5"/><use href="#h" x="986.1" y="780.5"/><use href="#h" x="989.4" y="780.5"/><use href="#h" x="992.7" y="780.5"/><use href="#h" x="996" y="780.5"/><use href="#h" x="999.3" y="780.5"/><use href="#h" x="1002.6" y="780.5"/><use href="#h" x="1005.9" y="780.5"/><use href="#h" x="1009.2" y="780.5"/><use href="#h" x="1012.5" y="780.5"/><use href="#h" x="1015.9" y="780.5"/><use href="#h" x="1019.2" y="780.5"/><use href="#h" x="1022.5" y="780.5"/><use href="#h" x="1025.8" y="780.5"/><use href="#h" x="1029.1" y="780.5"/><use href="#h" x="1032.4" y="780.5"/><use href="#h" x="1035.7" y="780.5"/><use href="#h" x="1039" y="780.5"/><use href="#h" x="1042.3" y="780.5"/><use href="#h" x="1045.7" y="780.5"/><use href="#h" x="1049" y="780.5"/><use href="#h" x="1052.3" y="780.5"/><use href="#h" x="1055.6" y="780.5"/><use href="#h" x="1058.9" y="780.5"/><use href="#h" x="1062.2" y="780.5"/><use href="#h" x="1065.5" y="780.5"/><use href="#h" x="1068.8" y="780.5"/><use href="#h" x="1072.1" y="780.5"/><use href="#h" x="1075.4" y="780.5"/><use href="#h" x="1078.8" y="780.5"/><use href="#h" x="1082.1" y="780.5"/><use href="#h" x="1085.4" y="780.5"/><use href="#h" x="1088.7" y="780.5"/><use href="#h" x="1092" y="780.5"/><use href="#h" x="1095.3" y="780.5"/><use href="#h" x="1098.6" y="780.5"/><use href="#h" x="1101.9" y="780.5"/><use href="#h" x="1105.2" y="780.5"/><use href="#h" x="1108.5" y="780.5"/><use href="#h" x="1111.9" y="780.5"/></g>
<rect x="135.6" y="12.5" width="992.4" height="805.0" fill="none" stroke="#000" stroke-width="3"/><path d="M119.6 780.5H135.6M126.6 597.6H135.6M119.6 414.8H135.6M126.6 231.9H135.6M119.6 49.0H135.6M135.8 817.5V833.0M185.6 817.5V826.0M214.7 817.5V826.0M235.4 817.5V826.0M251.4 817.5V826.0M264.5 817.5V826.0M275.6 817.5V826.0M285.2 817.5V826.0M293.6 817.5V826.0M301.2 817.5V833.0M351.0 817.5V826.0M380.1 817.5V826.0M400.8 817.5V826.0M416.8 817.5V826.0M429.9 817.5V826.0M441.0 817.5V826.0M450.6 817.5V826.0M459.0 817.5V826.0M466.6 817.5V833.0M516.4 817.5V826.0M545.5 817.5V826.0M566.2 817.5V826.0M582.2 817.5V826.0M595.3 817.5V826.0M606.4 817.5V826.0M616.0 817.5V826.0M624.4 817.5V826.0M632.0 817.5V833.0M681.8 817.5V826.0M710.9 817.5V826.0M731.6 817.5V826.0M747.6 817.5V826.0M760.7 817.5V826.0M771.8 817.5V826.0M781.4 817.5V826.0M789.8 817.5V826.0M797.4 817.5V833.0M847.2 817.5V826.0M876.3 817.5V826.0M897.0 817.5V826.0M913.0 817.5V826.0M926.1 817.5V826.0M937.2 817.5V826.0M946.8 817.5V826.0M955.2 817.5V826.0M962.8 817.5V833.0M1012.6 817.5V826.0M1041.7 817.5V826.0M1062.4 817.5V826.0M1078.4 817.5V826.0M1091.5 817.5V826.0M1102.6 817.5V826.0M1112.2 817.5V826.0M1120.6 817.5V826.0M1128.2 817.5V833.0" stroke="#000" stroke-width="3" fill="none"/>
<path d="M630.5 51.7H658.2M691.8 51.7H719" stroke="#0000ff" stroke-width="1.2"/><use href="#h" x="674.8" y="51.7"/><path d="M630.5 106.3H658.2M691.8 106.3H719" stroke="#800080" stroke-width="1.2"/><use href="#d" x="674.8" y="106.3"/><path d="M630.5 160.9H658.2M691.8 160.9H719" stroke="#000000" stroke-width="1.2"/><use href="#c" x="674.8" y="160.9"/><path d="M630.5 216.0H658.2M691.8 216.0H719" stroke="#ff0000" stroke-width="1.2"/><use href="#t" x="674.8" y="216.0"/>
<text x="55.77" y="789.8" font-size="31">0.00</text><text x="59.17" y="605.2" font-size="31">0.25</text><text x="57.07" y="423.1" font-size="31">0.50</text><text x="55.77" y="239.7" font-size="31">0.75</text><path transform="translate(54.07 58.0) scale(0.01514 -0.01514)" d="M763 0h-180v1147q-65 -62 -170.5 -124t-189.5 -93v174q151 71 264 172t160 196h116v-1472z"/><text x="71.31" y="58.0" font-size="31">.00</text><text x="111.56" y="859.3" font-size="31">0.</text><path transform="translate(137.41 859.3) scale(0.01514 -0.01514)" d="M763 0h-180v1147q-65 -62 -170.5 -124t-189.5 -93v174q151 71 264 172t160 196h116v-1472z"/><path transform="translate(289.98 861.0) scale(0.01514 -0.01514)" d="M763 0h-180v1147q-65 -62 -170.5 -124t-189.5 -93v174q151 71 264 172t160 196h116v-1472z"/><path transform="translate(447.51 862.5) scale(0.01514 -0.01514)" d="M763 0h-180v1147q-65 -62 -170.5 -124t-189.5 -93v174q151 71 264 172t160 196h116v-1472z"/><text x="464.75" y="862.5" font-size="31">0</text><path transform="translate(607.30 862.8) scale(0.01514 -0.01514)" d="M763 0h-180v1147q-65 -62 -170.5 -124t-189.5 -93v174q151 71 264 172t160 196h116v-1472z"/><text x="624.53" y="862.8" font-size="31">00</text><path transform="translate(761.93 862.7) scale(0.01514 -0.01514)" d="M763 0h-180v1147q-65 -62 -170.5 -124t-189.5 -93v174q151 71 264 172t160 196h116v-1472z"/><text x="779.16" y="862.7" font-size="31">000</text><path transform="translate(914.15 865.6) scale(0.01514 -0.01514)" d="M763 0h-180v1147q-65 -62 -170.5 -124t-189.5 -93v174q151 71 264 172t160 196h116v-1472z"/><text x="931.39" y="865.6" font-size="31">0,000</text><path transform="translate(1065.08 862.4) scale(0.01514 -0.01514)" d="M763 0h-180v1147q-65 -62 -170.5 -124t-189.5 -93v174q151 71 264 172t160 196h116v-1472z"/><text x="1082.32" y="862.4" font-size="31">00,000</text><text transform="translate(39.5 413.5) rotate(-90) scale(1.022 1)" font-size="37.5" text-anchor="middle">Intensity (a.u.)</text><text transform="translate(561.3 897.4) scale(1.05 1)" font-size="37.5">R<tspan font-size="25" dy="12">H</tspan><tspan dy="-12"> (nm)</tspan></text><g transform="translate(729 64.5) scale(1.034 1)"><text font-size="37.5">Pluronic<tspan font-size="26" dy="-13">®</tspan></text><text x="165.04" y="0.0" font-size="37.5">20.0</text><text x="248.44" font-size="37.5">mg/mL</text></g><g transform="translate(729 119.1) scale(1.034 1)"><text font-size="37.5">Pluronic<tspan font-size="26" dy="-13">®</tspan></text><path transform="translate(165.04 0.0) scale(0.01831 -0.01831)" d="M763 0h-180v1147q-65 -62 -170.5 -124t-189.5 -93v174q151 71 264 172t160 196h116v-1472z"/><text x="185.89" y="0.0" font-size="37.5">0.0</text><text x="248.44" font-size="37.5">mg/mL</text></g><g transform="translate(729 173.7) scale(1.034 1)"><text font-size="37.5">Pluronic<tspan font-size="26" dy="-13">®</tspan></text><text x="165.04" y="0.0" font-size="37.5">5.0</text><text x="227.59" font-size="37.5">mg/mL</text></g><g transform="translate(729 228.3) scale(1.034 1)"><text font-size="37.5">Pluronic<tspan font-size="26" dy="-13">®</tspan></text><text x="165.04" y="0.0" font-size="37.5">2.5</text><text x="227.59" font-size="37.5">mg/mL</text></g>
</svg>
</body></html>
